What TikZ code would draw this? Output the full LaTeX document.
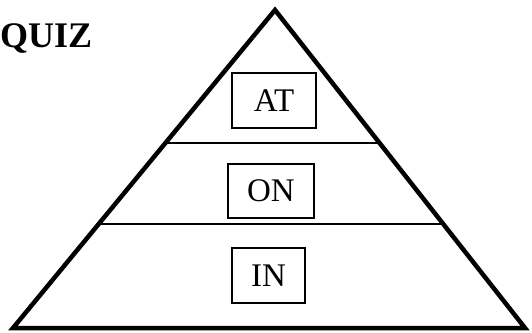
\documentclass[tikz,border=0pt]{standalone}
\usepackage{fontspec}
\setmainfont{Liberation Serif}
\usetikzlibrary{calc}
\begin{document}
\begin{tikzpicture}[x=1pt,y=-1pt,
  tier/.style={draw, line width=1.8pt},
  wordbox/.style={draw, line width=1.1pt, inner sep=0pt, font=\fontsize{33}{38}\selectfont},
  outline/.style={draw, line width=4.5pt, line join=miter}]
\useasboundingbox (0,0) rectangle (532,332);
\coordinate (apex) at (275,10);
\coordinate (bl) at (13,328);
\coordinate (br) at (525,328);
\draw[outline] (bl) -- (apex) -- (br) -- cycle;
\coordinate (l1) at ($(apex)!0.417!(bl)$);
\coordinate (r1) at ($(apex)!0.417!(br)$);
\coordinate (l2) at ($(apex)!0.672!(bl)$);
\coordinate (r2) at ($(apex)!0.672!(br)$);
\draw[tier] (l1) -- (r1);
\draw[tier] (l2) -- (r2);
\node[wordbox, minimum width=84pt, minimum height=55pt] (at) at (274,100.5) {AT};
\node[wordbox, minimum width=86pt, minimum height=54pt] (on) at (271,191) {ON};
\node[wordbox, minimum width=73pt, minimum height=55pt] (in) at (268.5,275.5) {IN};
\node[anchor=base west, inner sep=0pt, font=\fontsize{36}{40}\selectfont\bfseries] (quiz) at (0,47) {QUIZ};
\end{tikzpicture}
\end{document}
